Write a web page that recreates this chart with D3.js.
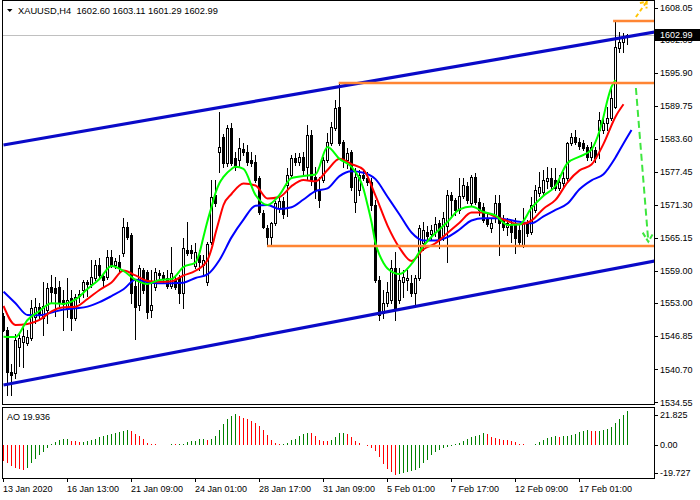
<!DOCTYPE html>
<html><head><meta charset="utf-8">
<script src="https://cdn.jsdelivr.net/npm/d3@7"></script>
<style>
html,body{margin:0;padding:0;background:#fff;}
svg{display:block;font-family:"Liberation Sans",Arial,sans-serif;}
</style></head><body>
<svg id="chart" width="700" height="500"></svg>
<script>
// ---------------- DATA ----------------
const symbolName = "XAUUSD,H4";
// [open, high, low, close] per H4 bar
const ohlc = [
[1550.64,1551.20,1547.85,1548.04],[1548.04,1548.60,1535.93,1540.22],[1540.22,1541.70,1535.93,1539.66],[1540.03,1547.29,1539.10,1546.18],[1544.87,1547.29,1541.33,1546.55],
[1545.80,1549.15,1541.15,1546.92],[1545.62,1548.04,1545.24,1546.73],[1546.55,1553.62,1546.18,1552.13],[1550.46,1553.99,1549.34,1552.32],[1552.32,1553.06,1550.27,1551.01],
[1550.27,1556.98,1547.11,1552.50],[1551.76,1556.79,1549.34,1555.86],[1556.04,1558.28,1553.06,1555.11],[1555.86,1557.91,1550.64,1554.93],[1556.04,1557.16,1552.32,1553.06],
[1553.62,1555.49,1548.04,1552.88],[1552.13,1557.72,1550.46,1553.62],[1553.99,1555.49,1548.04,1550.27],[1550.27,1554.74,1549.90,1554.18],[1554.37,1555.49,1553.25,1554.74],
[1555.49,1557.35,1554.18,1556.98],[1556.98,1557.35,1554.37,1556.60],[1556.60,1561.07,1556.04,1557.91],[1557.72,1561.07,1557.35,1560.14],[1560.14,1561.45,1557.91,1558.28],
[1558.09,1558.65,1556.04,1557.35],[1557.91,1562.93,1557.53,1561.63],[1561.63,1562.93,1559.77,1560.14],[1560.14,1561.45,1559.59,1560.89],[1560.70,1562.00,1558.84,1559.59],
[1562.38,1568.89,1561.82,1567.22],[1567.22,1568.15,1564.98,1565.36],[1565.73,1566.10,1553.06,1554.93],[1556.23,1557.35,1546.36,1552.32],[1552.69,1560.14,1551.76,1559.59],
[1559.21,1559.59,1554.93,1555.49],[1558.84,1559.21,1550.27,1551.39],[1551.76,1559.21,1550.46,1552.69],[1556.04,1559.59,1555.49,1558.84],[1558.65,1559.21,1557.35,1558.28],
[1558.28,1558.84,1556.98,1557.72],[1557.72,1559.21,1555.86,1556.23],[1556.23,1563.49,1555.86,1558.65],[1557.35,1558.28,1555.67,1556.04],[1557.91,1558.28,1553.06,1554.93],
[1554.93,1565.17,1552.13,1563.31],[1562.93,1568.15,1562.00,1562.38],[1562.93,1563.87,1561.45,1562.38],[1559.96,1564.24,1559.59,1562.56],[1562.00,1562.93,1559.21,1560.70],
[1560.14,1562.00,1558.28,1561.07],[1556.98,1564.42,1556.42,1564.05],[1564.42,1575.97,1564.05,1572.81],[1573.18,1575.97,1571.13,1571.69],[1581.18,1588.63,1577.46,1582.11],
[1583.98,1584.54,1578.39,1579.14],[1579.14,1586.21,1578.58,1585.65],[1585.65,1586.58,1578.76,1579.14],[1580.07,1581.18,1577.83,1578.39],[1579.69,1583.79,1578.39,1581.93],
[1581.74,1582.86,1580.63,1581.18],[1581.18,1582.49,1578.76,1579.32],[1579.69,1581.18,1578.58,1579.14],[1579.32,1580.63,1575.60,1575.97],[1576.34,1576.71,1569.64,1570.01],
[1569.83,1570.38,1567.03,1567.22],[1567.03,1567.59,1563.68,1565.36],[1565.36,1568.15,1563.68,1567.96],[1567.96,1572.06,1567.59,1571.69],[1570.76,1572.62,1570.01,1572.06],
[1572.06,1572.81,1568.89,1569.64],[1575.04,1578.21,1569.27,1576.90],[1576.90,1580.63,1576.34,1580.07],[1580.07,1581.00,1578.76,1579.32],[1579.32,1581.00,1578.76,1580.25],
[1580.25,1581.18,1576.90,1577.83],[1578.39,1586.21,1575.97,1584.35],[1584.35,1585.28,1575.04,1575.97],[1576.53,1578.39,1572.62,1574.11],[1574.11,1576.53,1570.94,1572.25],
[1575.97,1580.25,1575.60,1579.69],[1579.69,1584.72,1579.32,1583.05],[1582.86,1586.77,1582.49,1585.84],[1585.65,1590.87,1585.28,1589.38],[1589.56,1594.03,1582.49,1582.86],
[1583.05,1583.42,1578.39,1579.69],[1579.69,1581.93,1578.21,1581.00],[1581.18,1581.56,1574.11,1574.67],[1571.88,1578.21,1570.01,1576.53],[1574.11,1577.83,1573.18,1576.90],
[1576.90,1577.83,1575.97,1576.34],[1576.34,1577.46,1575.04,1575.60],[1575.60,1576.34,1570.38,1571.31],[1571.31,1572.25,1556.98,1557.35],[1557.35,1558.09,1549.90,1550.83],
[1551.20,1555.49,1550.27,1553.06],[1553.06,1556.98,1552.50,1555.11],[1553.62,1561.07,1553.06,1559.59],[1559.59,1562.56,1549.90,1551.76],[1553.62,1559.59,1553.06,1557.35],
[1556.98,1559.21,1554.18,1557.91],[1557.35,1559.21,1555.49,1557.72],[1556.79,1558.28,1554.37,1554.93],[1554.93,1558.28,1552.50,1557.72],[1557.72,1567.59,1557.35,1567.03],
[1564.24,1568.15,1562.93,1566.66],[1566.29,1567.40,1564.80,1565.54],[1565.92,1567.59,1564.80,1566.66],[1566.29,1569.08,1565.54,1567.78],[1567.96,1568.52,1563.31,1564.80],
[1565.54,1570.01,1564.80,1568.89],[1567.40,1574.11,1560.70,1573.18],[1573.18,1573.74,1569.08,1572.25],[1572.25,1572.62,1569.45,1570.38],[1570.38,1576.34,1569.83,1572.99],
[1572.99,1576.34,1572.62,1575.04],[1574.85,1575.60,1571.69,1572.25],[1571.69,1576.90,1571.31,1576.53],[1576.53,1577.27,1571.50,1571.88],[1571.88,1572.62,1569.45,1570.38],
[1570.94,1571.69,1568.15,1568.52],[1568.89,1570.01,1567.40,1567.78],[1567.03,1568.89,1566.29,1567.96],[1569.45,1573.18,1568.15,1571.69],[1571.69,1573.18,1562.00,1567.96],
[1568.52,1569.45,1566.66,1567.22],[1567.22,1568.89,1565.73,1567.96],[1567.59,1568.52,1564.42,1566.29],[1567.96,1568.89,1562.38,1565.17],[1566.66,1567.59,1563.87,1564.42],
[1563.87,1570.76,1563.49,1568.15],[1567.96,1568.52,1565.54,1566.10],[1566.29,1572.81,1565.92,1571.31],[1570.38,1575.04,1570.01,1574.11],[1573.55,1577.46,1572.99,1574.67],
[1573.74,1577.83,1573.18,1575.97],[1575.78,1578.39,1574.48,1576.34],[1576.34,1578.21,1574.29,1574.85],[1575.97,1578.21,1574.11,1574.48],[1574.48,1576.90,1574.11,1575.60],
[1575.41,1577.46,1574.85,1576.34],[1576.34,1583.05,1575.97,1582.86],[1582.86,1584.72,1582.49,1583.98],[1583.98,1585.28,1582.67,1583.05],[1583.05,1583.79,1581.74,1582.30],
[1582.86,1583.42,1581.56,1581.93],[1582.11,1582.49,1579.69,1580.25],[1580.25,1583.05,1579.69,1582.11],[1581.56,1582.11,1579.32,1580.07],[1585.28,1588.63,1580.07,1587.14],
[1585.28,1587.52,1584.72,1586.58],[1586.58,1589.56,1585.28,1587.52],[1587.52,1593.29,1587.14,1591.24],[1589.56,1605.58,1589.38,1600.74],[1600.55,1603.53,1599.81,1601.67],
[1601.67,1603.34,1599.81,1602.60],[1602.60,1603.11,1601.29,1602.99]
];
// Awesome Oscillator value per bar
const aoValues = [
-9.6,-10.6,-12.9,-13.5,-14.5,-14.9,-13.5,-10.9,-8.6,-6.2,
-4.2,-2.0,0.2,1.8,2.8,3.4,3.5,2.5,2.0,1.5,
1.8,2.2,3.0,3.7,4.4,5.0,5.7,6.4,6.7,7.4,
7.9,8.7,7.9,6.4,5.0,3.7,0.8,0.5,0.2,0.1,
-0.4,0.1,0.4,0.2,0.5,0.6,1.4,2.0,2.4,3.2,
3.3,2.8,3.4,5.0,8.7,12.3,15.3,17.3,18.3,16.8,
15.8,15.1,14.1,12.7,10.9,8.6,5.7,3.0,1.0,0.2,
0.6,0.8,2.8,3.7,5.4,6.2,7.2,6.9,5.4,2.8,
2.5,2.4,2.8,4.4,6.9,7.2,6.4,4.4,2.4,0.8,
-0.2,-0.6,-2.0,-3.5,-7.2,-11.5,-14.5,-16.1,-17.9,-17.6,
-17.0,-16.2,-15.6,-15.0,-13.7,-11.1,-9.1,-6.3,-4.4,-3.2,
-2.2,-1.4,-0.6,0.2,1.2,2.2,3.2,4.4,5.1,5.9,
6.7,6.1,4.8,4.2,3.2,3.1,3.0,2.2,1.6,0.6,
0.3,0.05,0.1,0.6,1.8,2.6,4.0,4.6,5.1,4.8,
5.1,5.3,5.9,6.5,7.7,8.3,8.5,8.3,8.1,8.2,
8.5,9.1,10.5,12.9,15.4,17.6,19.936
];
// moving-average lines: [bar index, price]
const lipsLine = [[0,1546.79],[3,1546.73],[6,1549.90],[9,1551.57],[12,1553.01],[15,1552.88],[18,1553.72],[21,1555.67],[24,1557.53],[27,1559.95],[30,1559.02],[33,1557.35],[36,1556.60],[39,1557.35],[42,1557.53],[45,1559.77],[48,1560.61],[49,1562.38],[50,1565.41],[51,1568.33],[52,1570.94],[53,1573.55],[54,1575.41],[55,1576.53],[57,1578.02],[58,1578.45],[60,1578.02],[63,1573.18],[66,1571.31],[69,1573.18],[72,1576.34],[75,1576.71],[78,1576.99],[81,1582.11],[84,1579.88],[87,1578.39],[90,1574.29],[91,1571.37],[92,1568.15],[93,1564.24],[94,1562.00],[95,1560.51],[96,1559.49],[99,1558.47],[102,1560.33],[105,1563.68],[108,1566.10],[111,1568.15],[114,1570.48],[117,1571.03],[120,1570.01],[123,1569.36],[126,1567.59],[129,1567.68],[132,1570.76],[135,1573.05],[138,1574.85],[141,1579.14],[144,1580.31],[147,1581.61],[148,1583.05],[149,1585.09],[150,1587.76],[151,1590.87],[152,1593.29],[153,1594.59]];
const teethLine = [[0,1552.51],[3,1548.97],[6,1549.15],[9,1549.90],[12,1551.52],[15,1552.25],[18,1552.38],[21,1553.81],[24,1555.49],[27,1556.88],[30,1559.12],[33,1558.19],[36,1557.16],[39,1557.01],[42,1557.12],[45,1558.19],[48,1559.06],[51,1561.07],[52,1563.12],[53,1566.04],[54,1568.76],[55,1571.31],[57,1573.36],[60,1575.32],[63,1574.93],[66,1572.52],[69,1572.80],[72,1574.82],[75,1575.95],[78,1575.73],[81,1577.83],[84,1579.92],[87,1578.93],[90,1577.87],[93,1573.06],[96,1567.48],[99,1563.34],[102,1560.89],[105,1563.06],[108,1564.18],[111,1566.10],[114,1568.02],[117,1569.90],[120,1569.90],[123,1569.14],[126,1568.30],[129,1567.72],[132,1568.41],[135,1570.63],[138,1572.25],[141,1575.54],[144,1577.76],[147,1578.84],[150,1582.69],[153,1587.76],[155,1590.07]];
const jawLine = [[0,1555.17],[3,1553.01],[6,1550.83],[9,1550.77],[12,1551.30],[15,1551.84],[18,1552.08],[21,1552.39],[24,1553.21],[27,1554.35],[30,1555.62],[33,1557.38],[36,1556.94],[39,1556.73],[42,1556.75],[45,1556.85],[48,1557.72],[51,1558.39],[54,1561.07],[57,1565.28],[60,1568.60],[63,1571.17],[66,1571.30],[69,1570.57],[72,1570.90],[75,1572.34],[78,1573.88],[81,1574.39],[84,1576.68],[87,1577.59],[90,1577.31],[93,1576.12],[96,1572.84],[99,1569.55],[102,1566.19],[105,1564.70],[108,1564.72],[111,1565.32],[114,1566.75],[117,1568.43],[120,1568.84],[123,1568.84],[126,1568.61],[129,1568.17],[132,1567.91],[135,1569.19],[138,1570.38],[141,1571.57],[144,1574.24],[147,1575.91],[150,1577.03],[153,1580.16],[155,1582.77],[157,1585.28]];
// drawn objects: [bar index, price]
const channelUpper = [[0,1582.49],[162.75,1603.53]];
const channelLower = [[0,1537.80],[162.75,1560.89]];
const levelStarts = [[152.4,1605.58],[83.8,1594.03],[65.9,1563.68]];
const downArrowShaft = [[158.1,1593.10],[161.2,1564.48]];
const downArrowHead = [[159.8,1566.16],[161.2,1564.48],[162.45,1566.05]];
const upArrowShaft = [[158.1,1606.32],[160.8,1609.17]];
const upArrowHead = [[159.1,1608.93],[160.8,1609.17],[160.75,1607.91]];
// axes
const priceTicks = [1608.05,1602.05,1595.90,1589.75,1583.60,1577.45,1571.30,1565.15,1559.00,1553.00,1546.85,1540.70,1534.55];
const aoTicks = [21.825,0,-19.727];
const timeLabels = [[0,"13 Jan 2020"],[16,"16 Jan 13:00"],[32,"21 Jan 09:00"],[48,"24 Jan 01:00"],[64,"28 Jan 17:00"],[80,"31 Jan 09:00"],[96,"5 Feb 01:00"],[112,"7 Feb 17:00"],[128,"12 Feb 09:00"],[144,"17 Feb 01:00"]];

// ---------------- DRAW ----------------
const svg = d3.select("#chart");
const L = 3, R = 654, mainTop = 0, mainBot = 404, aoTop = 407, aoBot = 478;
const x = d3.scaleLinear().domain([0,162.75]).range([3.5,654.5]);
const y = d3.scaleLinear().domain([1534.55,1608.05]).range([402.4,7.7]);
const ya = d3.scaleLinear().domain([-19.727,21.825]).range([478,408]);
const snap = v => Math.round(v) + 0.5;
const last = ohlc[ohlc.length-1];
const cy = y(last[3]);
const tagTop = Math.round(cy) - 6, tagH = 12;

svg.append("rect").attr("width",700).attr("height",500).attr("fill","#fff");
const defs = svg.append("defs");
defs.append("clipPath").attr("id","cm").append("rect").attr("x",L).attr("y",mainTop).attr("width",R-L).attr("height",mainBot-mainTop);
defs.append("clipPath").attr("id","ca").append("rect").attr("x",L).attr("y",aoTop+1).attr("width",R-L).attr("height",aoBot-aoTop-1);
defs.append("clipPath").attr("id","ctag").append("rect").attr("x",R+1).attr("y",tagTop+tagH).attr("width",700-R).attr("height",20);

const main = svg.append("g").attr("clip-path","url(#cm)");

// current price line
main.append("line").attr("x1",L).attr("x2",R).attr("y1",snap(cy)).attr("y2",snap(cy))
  .attr("stroke","#c0c0c0").attr("stroke-width",1);

// candles
const cg = main.append("g");
ohlc.forEach((d,i) => {
  const cx = x(i);
  cg.append("line").attr("x1",cx).attr("x2",cx).attr("y1",snap(y(d[1]))-0.5).attr("y2",snap(y(d[2]))+0.5)
    .attr("stroke","#000").attr("stroke-width",1);
  const top = snap(y(Math.max(d[0],d[3]))), bot = snap(y(Math.min(d[0],d[3])));
  const bull = d[3] >= d[0];
  cg.append("rect").attr("x",cx-1).attr("y",top).attr("width",2).attr("height",Math.max(bot-top,0.01))
    .attr("fill",bull ? "#fff" : "#000").attr("stroke","#000").attr("stroke-width",1);
});

// moving averages
const ln = d3.line().x(d=>x(d[0])).y(d=>y(d[1])).curve(d3.curveMonotoneX);
main.append("path").attr("d",ln(jawLine)).attr("fill","none").attr("stroke","#0000ff").attr("stroke-width",2);
main.append("path").attr("d",ln(teethLine)).attr("fill","none").attr("stroke","#ff0000").attr("stroke-width",2);
main.append("path").attr("d",ln(lipsLine)).attr("fill","none").attr("stroke","#00ff00").attr("stroke-width",2);

// channel
const sl = d3.line().x(d=>x(d[0])).y(d=>y(d[1]));
[channelUpper, channelLower].forEach(c => main.append("path").attr("d",sl(c)).attr("fill","none")
  .attr("stroke","#0a0ac8").attr("stroke-width",3.2));

// horizontal levels
levelStarts.forEach(d => main.append("line").attr("x1",x(d[0])).attr("x2",R).attr("y1",y(d[1])).attr("y2",y(d[1]))
  .attr("stroke","#ff8533").attr("stroke-width",2.6));

// arrows
main.append("path").attr("d",sl(downArrowShaft)).attr("fill","none").attr("stroke","#3ee63e").attr("stroke-width",2).attr("stroke-dasharray","7,4");
main.append("path").attr("d",sl(downArrowHead)).attr("fill","none").attr("stroke","#3ee63e").attr("stroke-width",2).attr("stroke-dasharray","5,2");
main.append("path").attr("d",sl(upArrowShaft)).attr("fill","none").attr("stroke","#ffc400").attr("stroke-width",2).attr("stroke-dasharray","4,3");
main.append("path").attr("d",sl(upArrowHead)).attr("fill","none").attr("stroke","#ffc400").attr("stroke-width",2).attr("stroke-dasharray","4,2");

// AO bars
const ag = svg.append("g").attr("clip-path","url(#ca)");
aoValues.forEach((v,i) => {
  const up = i > 0 && v > aoValues[i-1];
  ag.append("line").attr("x1",x(i)).attr("x2",x(i)).attr("y1",Math.round(ya(0))).attr("y2",Math.round(ya(v)))
    .attr("stroke", up ? "#008000" : "#ff0000").attr("stroke-width",1);
});

// frames
svg.append("rect").attr("x",L-0.5).attr("y",0.5).attr("width",R-L+1).attr("height",mainBot)
  .attr("fill","none").attr("stroke","#000");
svg.append("rect").attr("x",L-0.5).attr("y",aoTop+0.5).attr("width",R-L+1).attr("height",aoBot-aoTop)
  .attr("fill","none").attr("stroke","#000");

// price axis
const fs = "9px";
priceTicks.forEach(v => {
  const py = y(v);
  svg.append("line").attr("x1",R).attr("x2",R+4).attr("y1",snap(py)).attr("y2",snap(py)).attr("stroke","#000");
  const hidden = Math.abs(py - cy) < 10;   // label partly covered by the price tag
  const t = svg.append("text").attr("x",660).attr("y",py).attr("dy","0.35em").attr("font-size",fs).attr("fill","#000").text(v.toFixed(2));
  if (hidden) t.attr("clip-path","url(#ctag)");
});
// current price tag
svg.append("rect").attr("x",R+1).attr("y",tagTop).attr("width",700-R-1).attr("height",tagH).attr("fill","#000");
svg.append("text").attr("x",660).attr("y",cy).attr("dy","0.35em").attr("font-size",fs).attr("fill","#fff").text(last[3].toFixed(2));

// AO axis
aoTicks.forEach((v,k) => {
  const off = k === 0 ? 7 : (k === 2 ? -5 : 0);
  const py = ya(v) + off;
  svg.append("line").attr("x1",R).attr("x2",R+4).attr("y1",snap(py)).attr("y2",snap(py)).attr("stroke","#000");
  svg.append("text").attr("x",660).attr("y",py).attr("dy","0.35em").attr("font-size",fs).attr("fill","#000")
    .text(v === 0 ? "0.00" : String(v));
});

// time axis
timeLabels.forEach(d => {
  const tx = x(d[0]);
  svg.append("line").attr("x1",tx).attr("x2",tx).attr("y1",aoBot).attr("y2",aoBot+4).attr("stroke","#000");
  svg.append("text").attr("x",tx-0.5).attr("y",492).attr("font-size",fs).attr("fill","#000").text(d[1]);
});

// titles
svg.append("path").attr("d","M7,9 L12.5,9 L9.75,12 Z").attr("fill","#000");
svg.append("text").attr("x",18).attr("y",14).attr("font-size","9.3px").attr("fill","#000")
  .attr("xml:space","preserve")
  .text(symbolName + "  " + last.map(v=>v.toFixed(2)).join(" "));
svg.append("text").attr("x",7).attr("y",419.5).attr("font-size",fs).attr("fill","#000")
  .text("AO " + aoValues[aoValues.length-1].toFixed(3));
</script>
</body></html>
